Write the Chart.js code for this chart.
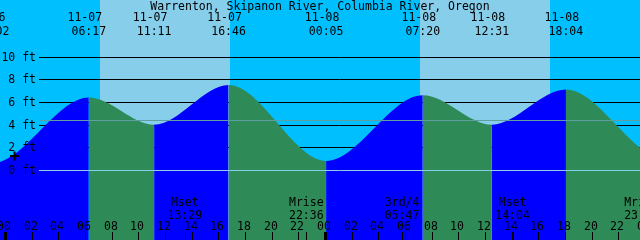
<!DOCTYPE html>
<html><head><meta charset="utf-8">
<script src="https://cdn.jsdelivr.net/npm/chart.js@4/dist/chart.umd.min.js"></script>
<style>html,body{margin:0;padding:0;background:#00BFFF;}canvas{display:block;}</style>
</head><body>
<canvas id="c" width="640" height="240"></canvas>
<script>
const chartTitle = 'Warrenton, Skipanon River, Columbia River, Oregon';
// tide extremes
const tideDates = ['11-06','11-06','11-07','11-07','11-07','11-08','11-08','11-08','11-08','11-09','11-09'];
const tideTimes = ['16:12','23:02','06:17','11:11','16:46','00:05','07:20','12:31','18:04','01:30','08:18'];
const tideFeet  = [7.6, 0.6, 6.4, 4.0, 7.5, 0.8, 6.6, 4.0, 7.1, 1.0, 6.7];
// daylight
const sunDates = ['11-07','11-07','11-08','11-08'];
const sunTimes = ['07:07','16:54','07:08','16:53'];
// moon events
const moonDates  = ['11-07','11-07','11-08','11-08','11-08'];
const moonTimes  = ['13:29','22:36','05:47','14:04','23:44'];
const moonEvents = ['Mset','Mrise','3rd/4','Mset','Mrise'];
// level axis
const levelTicks  = [0, 2, 4, 6, 8, 10];
const levelLabels = ['0 ft','2 ft','4 ft','6 ft','8 ft','10 ft'];
const meanLevel = 4.4;
// hour axis (hours from 11-07 00:00)
const hourTicks  = [0,2,4,6,8,10,12,14,16,18,20,22,24,26,28,30,32,34,36,38,40,42,44,46,48];
const hourLabels = ['00','02','04','06','08','10','12','14','16','18','20','22','00','02','04','06','08','10','12','14','16','18','20','22','00'];
// current marker
const nowDate = '11-07', nowTime = '00:43', nowFeet = 1.24;

const dayIndex = {'11-06': -1, '11-07': 0, '11-08': 1, '11-09': 2};
function toH(d, t) { const [hh, mm] = t.split(':').map(Number); return dayIndex[d] * 24 + hh + mm / 60; }
const tideH = tideTimes.map((t, i) => toH(tideDates[i], t));
const sunH = sunTimes.map((t, i) => toH(sunDates[i], t));
const moonH = moonTimes.map((t, i) => toH(moonDates[i], t));

const NIGHT = '#00BFFF', DAY = '#87CEEB', RISE = '#0000FF', FALL = '#2E8B57';
const FONT = '11.5px "DejaVu Sans Mono", monospace';

const deco = {
  id: 'deco',
  beforeDatasetsDraw(chart) {
    const {ctx, scales: {x, y}} = chart;
    ctx.save();
    ctx.fillStyle = NIGHT; ctx.fillRect(0, 0, chart.width, chart.height);
    ctx.fillStyle = DAY;
    for (let i = 0; i < sunH.length; i += 2) {
      const x0 = Math.round(x.getPixelForValue(sunH[i])), x1 = Math.round(x.getPixelForValue(sunH[i + 1]));
      ctx.fillRect(x0, 0, x1 - x0, chart.height);
    }
    ctx.strokeStyle = '#000'; ctx.lineWidth = 1;
    levelTicks.forEach(v => {
      if (v === 0) return;
      const yy = Math.round(y.getPixelForValue(v)) + 0.5;
      ctx.beginPath(); ctx.moveTo(39, yy); ctx.lineTo(chart.width, yy); ctx.stroke();
    });
    ctx.restore();
  },
  afterDatasetsDraw(chart) {
    const {ctx, scales: {x, y}} = chart;
    ctx.save();
    ctx.lineWidth = 1;
    // zero line
    let yy = Math.round(y.getPixelForValue(0)) + 0.5;
    ctx.strokeStyle = '#87CEEB';
    ctx.beginPath(); ctx.moveTo(39, yy); ctx.lineTo(chart.width, yy); ctx.stroke();
    // mean line
    yy = Math.round(y.getPixelForValue(meanLevel)) + 0.5;
    ctx.strokeStyle = '#5F9EA0';
    ctx.beginPath(); ctx.moveTo(39, yy); ctx.lineTo(chart.width, yy); ctx.stroke();

    ctx.font = FONT; ctx.fillStyle = '#000'; ctx.textBaseline = 'alphabetic';
    // level labels
    ctx.textAlign = 'right';
    levelTicks.forEach((v, i) => ctx.fillText(levelLabels[i], 36, Math.round(y.getPixelForValue(v)) + 4));
    // title
    ctx.textAlign = 'center';
    ctx.fillText(chartTitle, chart.width / 2, 9.5);
    // tide labels
    tideH.forEach((h, i) => {
      const px = x.getPixelForValue(h);
      ctx.fillText(tideDates[i], px - 4, 21);
      ctx.fillText(tideTimes[i], px, 34.5);
    });
    // moon labels
    moonH.forEach((h, i) => {
      const px = x.getPixelForValue(h);
      ctx.fillText(moonEvents[i], px, 206);
      ctx.fillText(moonTimes[i], px, 218.5);
    });
    // hour labels & ticks
    hourTicks.forEach((h, i) => {
      const px = Math.round(x.getPixelForValue(h));
      ctx.fillText(hourLabels[i], px - 1, 229.5);
      if (h % 24 === 0) ctx.fillRect(px - 1, 232, 3, 8); else ctx.fillRect(px, 232, 1, 8);
    });
    moonH.forEach(h => { const px = Math.round(x.getPixelForValue(h)); ctx.fillRect(px, 232, 1, 8); });
    ctx.restore();
  }
};

new Chart(document.getElementById('c'), {
  type: 'line',
  data: {
    datasets: [
      {
        type: 'scatter',
        data: [{x: toH(nowDate, nowTime), y: nowFeet}],
        pointStyle: 'cross', pointRadius: 4.5, borderWidth: 2,
        borderColor: '#000', backgroundColor: '#000', showLine: false
      },
      {
        data: tideH.map((h, i) => ({x: h, y: tideFeet[i]})),
        fill: 'start',
        cubicInterpolationMode: 'monotone',
        pointRadius: 0, borderWidth: 0, borderColor: 'rgba(0,0,0,0)',
        backgroundColor: RISE,
        segment: {
          backgroundColor: c => c.p1.parsed.y > c.p0.parsed.y ? RISE : FALL
        }
      }
    ]
  },
  options: {
    responsive: false, animation: false, devicePixelRatio: 1,
    layout: {padding: 0, autoPadding: false},
    plugins: {legend: {display: false}, tooltip: {enabled: false}, title: {display: false}},
    scales: {
      x: {type: 'linear', min: -0.375, max: 47.625, display: false},
      y: {type: 'linear', min: -6.18, max: 15.0, display: false}
    }
  },
  plugins: [deco]
});
</script>
</body></html>
